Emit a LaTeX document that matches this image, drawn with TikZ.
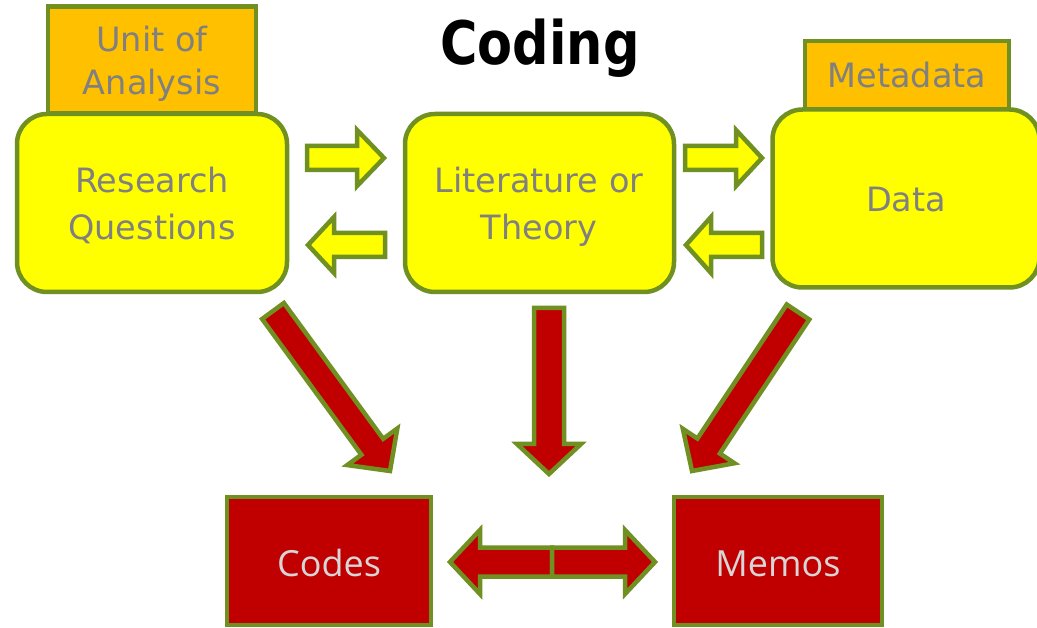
\documentclass[tikz,border=0pt]{standalone}
\usepackage{fontspec}
\setmainfont{DejaVu Sans}
\newfontfamily\titlefont{DejaVu Sans}[FakeStretch=0.85]
\newfontfamily\redfont{Open Sans}
\usetikzlibrary{calc}
\definecolor{ygreen}{RGB}{112,144,34}
\definecolor{yfill}{RGB}{255,255,0}
\definecolor{ofill}{RGB}{255,192,0}
\definecolor{rfill}{RGB}{192,0,0}
\definecolor{tgrey}{RGB}{128,128,128}
\definecolor{lgrey}{RGB}{214,214,214}
\tikzset{
  ybox/.style={draw=ygreen, line width=4.5pt, fill=yfill, rounded corners=30pt, inner sep=0pt},
  obox/.style={draw=ygreen, line width=4.5pt, fill=ofill, inner sep=0pt},
  rbox/.style={draw=ygreen, line width=4.5pt, fill=rfill, inner sep=0pt},
  yarrow/.style={draw=ygreen, line width=4.5pt, fill=yfill, line join=miter},
  rarrow/.style={draw=ygreen, line width=4.5pt, fill=rfill, line join=miter},
  gtext/.style={anchor=base, text=tgrey, font=\fontsize{33.5}{40}\selectfont, inner sep=0pt},
  rtext/.style={anchor=base, text=lgrey, font=\redfont\fontsize{36}{40}\selectfont, inner sep=0pt},
}
% #1 style, #2 tail, #3 tip, #4 half shaft, #5 half head, #6 head length
\newcommand{\blockarrow}[6][]{%
  \coordinate (hb) at ($(#3)!#6!(#2)$);
  \filldraw[#1] ($(#2)!#4!90:(#3)$) -- ($(hb)!#4!90:(#3)$) -- ($(hb)!#5!90:(#3)$)
    -- (#3) -- ($(hb)!#5!-90:(#3)$) -- ($(hb)!#4!-90:(#3)$) -- ($(#2)!#4!-90:(#3)$) -- cycle;
}
\begin{document}
\begin{tikzpicture}[x=1pt, y=-1pt]
\clip (0,0) rectangle (1037,628);
\fill[white] (0,0) rectangle (1037,628);

% title
\node[anchor=base, inner sep=0pt, font=\titlefont\bfseries\fontsize{60}{60}\selectfont] (title) at (540,65) {Coding};

% orange tabs
\node[obox, minimum width=208pt, minimum height=107pt] (unit) at (152,60) {};
\node[obox, minimum width=204pt, minimum height=70pt] (meta) at (907,76) {};

% yellow boxes
\node[ybox, minimum width=270pt, minimum height=178pt] (rq) at (152,203) {};
\node[ybox, minimum width=269pt, minimum height=178pt] (lit) at (539.5,203) {};
\node[ybox, minimum width=267pt, minimum height=178pt] (data) at (906,198.5) {};

% red boxes
\node[rbox, minimum width=204pt, minimum height=128pt] (codes) at (329,561) {};
\node[rbox, minimum width=208pt, minimum height=128pt] (memos) at (778,561) {};

% texts
\node[gtext] (tunit1) at (152,52) {Unit of};
\node[gtext] (tunit2) at (152,95) {Analysis};
\node[gtext] (tmeta) at (907,88) {Metadata};
\node[gtext] (trq1) at (152,193) {Research};
\node[gtext] (trq2) at (152,240) {Questions};
\node[gtext] (tlit1) at (539,193) {Literature or};
\node[gtext] (tlit2) at (539,240) {Theory};
\node[gtext] (tdata) at (906,212) {Data};
\node[rtext] (tcodes) at (329,576) {Codes};
\node[rtext] (tmemos) at (778,576) {Memos};

% yellow arrows
\coordinate (y1t) at (307,158);  \coordinate (y1h) at (384,158);
\coordinate (y2t) at (385,245);  \coordinate (y2h) at (308,245);
\coordinate (y3t) at (685,158);  \coordinate (y3h) at (762,158);
\coordinate (y4t) at (762,245);  \coordinate (y4h) at (686,245);
\blockarrow[yarrow]{y1t}{y1h}{12pt}{28pt}{27pt}
\blockarrow[yarrow]{y2t}{y2h}{12pt}{28pt}{26pt}
\blockarrow[yarrow]{y3t}{y3h}{12pt}{28pt}{26pt}
\blockarrow[yarrow]{y4t}{y4h}{12pt}{28pt}{25pt}

% red arrows
\coordinate (r1t) at (273,311);  \coordinate (r1h) at (390,471);
\coordinate (r2t) at (549,308);  \coordinate (r2h) at (549,474);
\coordinate (r3t) at (798,312);  \coordinate (r3h) at (692,471);
\blockarrow[rarrow]{r1t}{r1h}{13.5pt}{31pt}{30pt}
\blockarrow[rarrow]{r2t}{r2h}{15pt}{32pt}{30pt}
\blockarrow[rarrow]{r3t}{r3h}{13.5pt}{31pt}{30pt}

% double arrow
\coordinate (dc) at (552,562);
\coordinate (dl) at (450,562);
\coordinate (dr) at (655,562);
\blockarrow[rarrow]{dc}{dl}{14.5pt}{32pt}{30pt}
\blockarrow[rarrow]{dc}{dr}{14.5pt}{32pt}{30pt}
\end{tikzpicture}
\end{document}
